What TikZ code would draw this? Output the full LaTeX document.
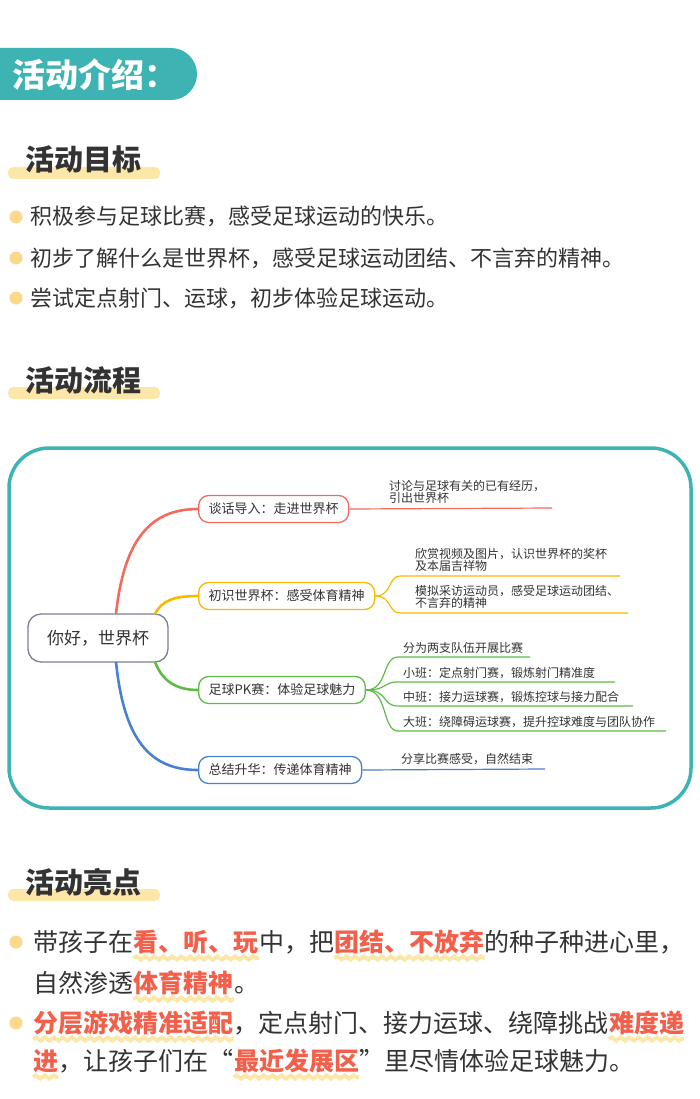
\documentclass[tikz,border=0pt]{standalone}
\usepackage{fontspec}
\setmainfont{Noto Sans CJK SC}
\usetikzlibrary{positioning,decorations.pathmorphing}
\definecolor{teal1}{HTML}{3DB3B3}
\definecolor{hiyel}{HTML}{FDE7A8}
\definecolor{dotyel}{HTML}{FAD98A}
\definecolor{ink}{HTML}{333333}
\definecolor{cRed}{HTML}{F26B5E}
\definecolor{cOrg}{HTML}{F9B800}
\definecolor{cGrn}{HTML}{5DBB46}
\definecolor{cBlu}{HTML}{4A80D0}
\definecolor{cGry}{HTML}{7A8090}
\definecolor{hot}{HTML}{F2604B}
\newcommand{\fs}[1]{\fontsize{#1}{#1}\selectfont}
\pgfdeclarelayer{background}
\pgfsetlayers{background,main}

\begin{document}
\begin{tikzpicture}[
    x=1pt, y=-1pt,
    heading/.style={anchor=base west, inner sep=0, text=ink, font=\fs{29}\bfseries},
    bullet/.style={anchor=base west, inner sep=0, text=ink, font=\fs{22}},
    dot/.style={circle, fill=dotyel, inner sep=0, minimum size=13pt},
    root/.style={draw=cGry, line width=1.3pt, rounded corners=13pt, minimum width=140pt, minimum height=48pt, fill=white, text=ink, font=\fs{17}},
    branch/.style={draw=#1, line width=1.3pt, rounded corners=10pt, minimum height=27pt, inner xsep=10pt, fill=white, text=ink, font=\fs{13}},
    edge/.style={draw=#1, line width=2.6pt},
    leafline/.style={draw=#1, line width=1.2pt},
    leaf/.style={anchor=south west, inner sep=1pt, align=left, text=ink, font=\fs{12}\linespread{0.9}\selectfont},
    seg/.style={anchor=base west, inner sep=0, font=\fs{25}, text=ink},
    hseg/.style={seg, text=hot, font=\fs{25}\bfseries},
    wave/.style={draw=hiyel, line width=4pt, decorate, decoration={snake, segment length=9pt, amplitude=1.6pt}}
]
\useasboundingbox (0,0) rectangle (700,1099);

% header tab
\fill[teal1, rounded corners=26pt] (-40,48) rectangle (197,100);
\node[anchor=west, inner sep=0, text=white, font=\fs{33}\bfseries] (title) at (12,75) {活动介绍：};

% goals
\fill[hiyel, rounded corners=5pt] (8,167) rectangle (160,179);
\node[heading] (goalhd) at (25,171) {活动目标};
\node[dot] (d1) at (16,217) {};
\node[bullet] (g1) at (30,225) {积极参与足球比赛，感受足球运动的快乐。};
\node[dot] (d2) at (16,258) {};
\node[bullet] (g2) at (30,266) {初步了解什么是世界杯，感受足球运动团结、不言弃的精神。};
\node[dot] (d3) at (16,298) {};
\node[bullet] (g3) at (30,306) {尝试定点射门、运球，初步体验足球运动。};

% flow
\fill[hiyel, rounded corners=5pt] (8,387) rectangle (160,399);
\node[heading] (flowhd) at (25,391) {活动流程};

\draw[teal1, line width=3.5pt, rounded corners=40pt] (9,448) rectangle (691,808);

\node[root] (hello) at (98,638) {你好，世界杯};
\node[branch=cRed, anchor=west] (talk) at (198,509) {谈话导入：走进世界杯};
\node[branch=cOrg, anchor=west] (know) at (198,596) {初识世界杯：感受体育精神};
\node[branch=cGrn, anchor=west] (pk) at (198,690) {足球PK赛：体验足球魅力};
\node[branch=cBlu, anchor=west] (sum) at (198,770) {总结升华：传递体育精神};

\draw[edge=cRed] (116,614) .. controls (124,540) and (150,509) .. (talk.west);
\draw[edge=cOrg] (155,614) .. controls (162,600) and (175,596) .. (know.west);
\draw[edge=cGrn] (155,662) .. controls (162,680) and (175,690) .. (pk.west);
\draw[edge=cBlu] (116,662) .. controls (124,740) and (150,770) .. (sum.west);

% red leaf
\coordinate (talkend) at (552,508);
\draw[leafline=cRed] (talk.east) -- (talkend);
\node[leaf] (talkleaf) at (388,505) {讨论与足球有关的已有经历，\\引出世界杯};

% orange leaves
\coordinate (knowa) at (400,576);
\coordinate (knowb) at (400,613);
\draw[leafline=cOrg] (know.east) .. controls (392,596) and (388,576) .. (knowa) -- (620,576);
\draw[leafline=cOrg] (know.east) .. controls (392,596) and (388,613) .. (knowb) -- (628,613);
\node[leaf] (knowleafa) at (414,573) {欣赏视频及图片，认识世界杯的奖杯\\及本届吉祥物};
\node[leaf] (knowleafb) at (414,610) {模拟采访运动员，感受足球运动团结、\\不言弃的精神};

% green leaves
\foreach \yy/\xe/\txt [count=\i] in {657/530/分为两支队伍开展比赛, 682/615/小班：定点射门赛，锻炼射门精准度, 706/633/中班：接力运球赛，锻炼控球与接力配合, 731/666/大班：绕障碍运球赛，提升控球难度与团队协作}{
  \coordinate (pkend\i) at (\xe,\yy);
  \draw[leafline=cGrn] (pk.east) .. controls (388,690) and (382,\yy) .. (398,\yy) -- (pkend\i);
  \node[leaf] (pkleaf\i) at (402,\yy-2) {\txt};
}

% blue leaf
\coordinate (sumend) at (545,769);
\draw[leafline=cBlu] (sum.east) -- (sumend);
\node[leaf] (sumleaf) at (400,766) {分享比赛感受，自然结束};

% highlights
\fill[hiyel, rounded corners=5pt] (8,889) rectangle (160,901);
\node[heading] (highhd) at (25,893) {活动亮点};

\node[dot] (d4) at (16,942) {};
\node[seg] (a1) at (33,951) {带孩子在};
\node[hseg] (a2) at (a1.base east) {看、听、玩};
\node[seg] (a3) at (a2.base east) {中，把};
\node[hseg] (a4) at (a3.base east) {团结、不放弃};
\node[seg] (a5) at (a4.base east) {的种子种进心里，};
\node[seg] (b1) at (33,992) {自然渗透};
\node[hseg] (b2) at (b1.base east) {体育精神};
\node[seg] (b3) at (b2.base east) {。};
\node[dot] (d5) at (16,1023) {};
\node[hseg] (c1) at (33,1032) {分层游戏精准适配};
\node[seg] (c2) at (c1.base east) {，定点射门、接力运球、绕障挑战};
\node[hseg] (c3) at (c2.base east) {难度递};
\node[hseg] (d1x) at (33,1070) {进};
\node[seg] (d2x) at (d1x.base east) {，让孩子们在“};
\node[hseg] (d3x) at (d2x.base east) {最近发展区};
\node[seg] (d4x) at (d3x.base east) {”里尽情体验足球魅力。};

\begin{pgfonlayer}{background}
\foreach \n in {a2,a4,b2,c1,c3,d1x,d3x}{
  \draw[wave] ([yshift=-7pt]\n.base west) -- ([yshift=-7pt]\n.base east);
}
\end{pgfonlayer}
\end{tikzpicture}
\end{document}
